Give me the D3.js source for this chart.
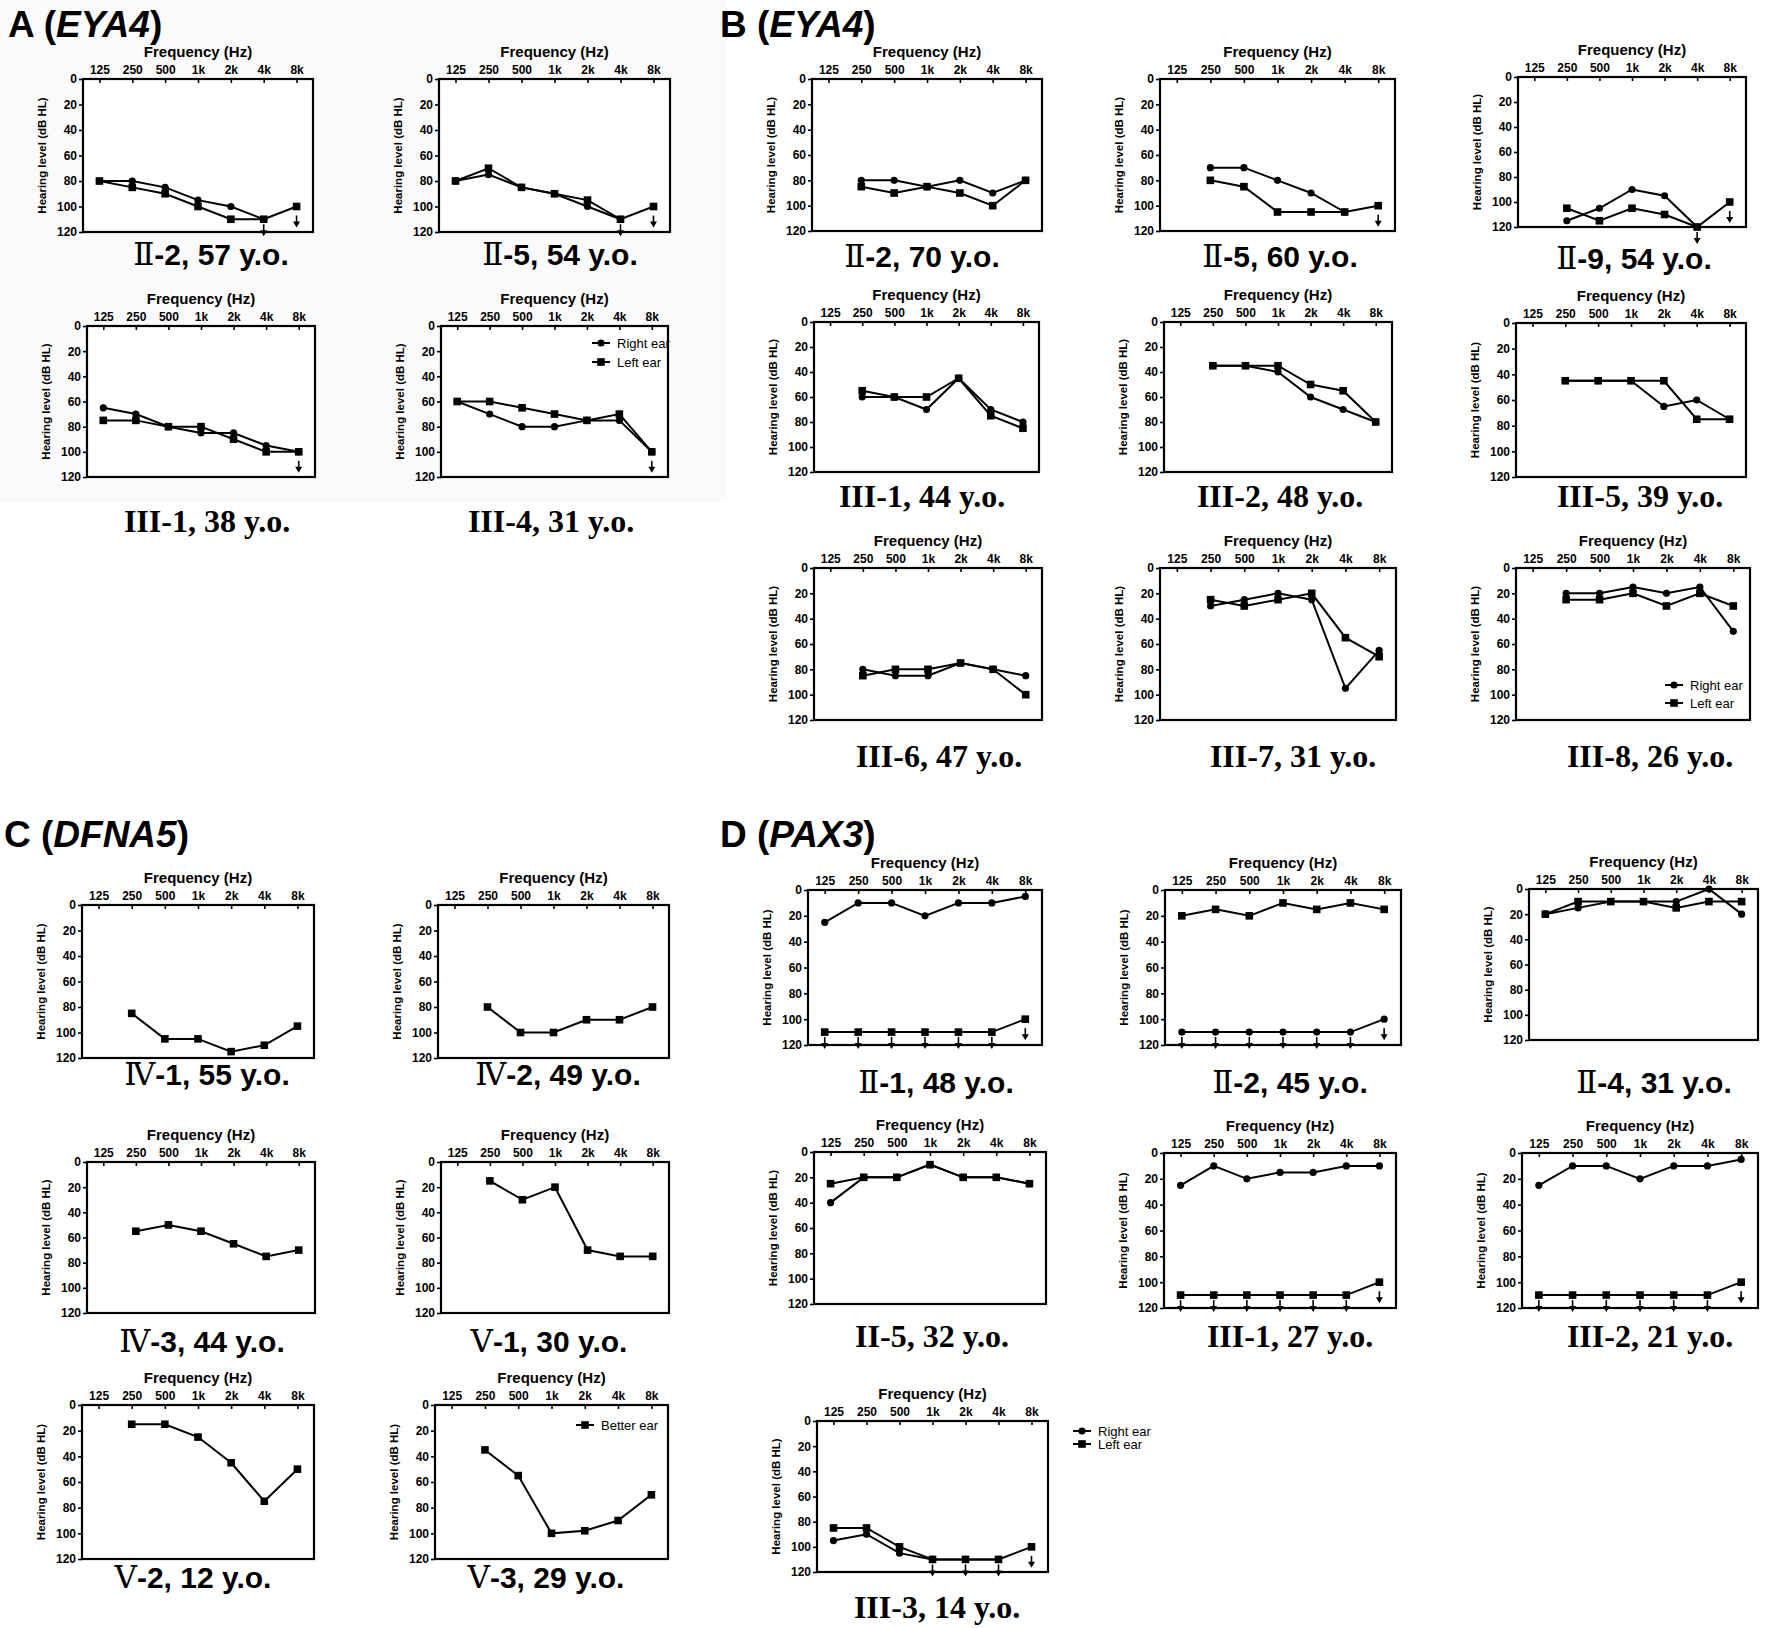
<!DOCTYPE html>
<html>
<head>
<meta charset="utf-8">
<script src="https://cdn.jsdelivr.net/npm/d3@7"></script>
<style>
body { margin: 0; background: #fff; }
</style>
</head>
<body>
<script>
// audiogram data (dB HL, null = not tested)
var freqs = ["125", "250", "500", "1k", "2k", "4k", "8k"];
var levelTicks = [0, 20, 40, 60, 80, 100, 120];
var earLabels = ["Right ear", "Left ear"];
var betterLabel = ["Better ear"];

var titles = [["A (", "EYA4", ")"], ["B (", "EYA4", ")"], ["C  (", "DFNA5", ")"], ["D (", "PAX3", ")"]];

var captionsA = ["Ⅱ-2, 57 y.o.", "Ⅱ-5, 54 y.o.", "III-1, 38 y.o.", "III-4, 31 y.o."];
var rightA = [
    [80, 80, 85, 95, 100, 110, null],
    [80, 75, 85, 90, 100, 110, null],
    [65, 70, 80, 85, 85, 95, 100],
    [60, 70, 80, 80, 75, 75, 100]
];
var leftA = [
    [80, 85, 90, 100, 110, 110, 100],
    [80, 70, 85, 90, 95, 110, 100],
    [75, 75, 80, 80, 90, 100, 100],
    [60, 60, 65, 70, 75, 70, 100]
];
var arrowsA = [
    [["4k", 110], ["8k", 100]],
    [["4k", 110], ["8k", 100]],
    [["8k", 100]],
    [["8k", 100]]
];

var captionsB = ["Ⅱ-2, 70 y.o.", "Ⅱ-5, 60 y.o.", "Ⅱ-9, 54 y.o.", "III-1, 44 y.o.", "III-2, 48 y.o.",
                 "III-5, 39 y.o.", "III-6, 47 y.o.", "III-7, 31 y.o.", "III-8, 26 y.o."];
var rightB = [
    [null, 80, 80, 85, 80, 90, 80],
    [null, 70, 70, 80, 90, 105, null],
    [null, 115, 105, 90, 95, 120, null],
    [null, 60, 60, 70, 45, 70, 80],
    [null, 35, 35, 40, 60, 70, 80],
    [null, 45, 45, 45, 65, 60, 75],
    [null, 80, 85, 85, 75, 80, 85],
    [null, 30, 25, 20, 25, 95, 65],
    [null, 20, 20, 15, 20, 15, 50]
];
var leftB = [
    [null, 85, 90, 85, 90, 100, 80],
    [null, 80, 85, 105, 105, 105, 100],
    [null, 105, 115, 105, 110, 120, 100],
    [null, 55, 60, 60, 45, 75, 85],
    [null, 35, 35, 35, 50, 55, 80],
    [null, 45, 45, 45, 45, 75, 75],
    [null, 85, 80, 80, 75, 80, 100],
    [null, 25, 30, 25, 20, 55, 70],
    [null, 25, 25, 20, 30, 20, 30]
];
var arrowsB = [[], [["8k", 100]], [["4k", 120], ["8k", 100]], [], [], [], [], [], []];

var captionsC = ["Ⅳ-1, 55 y.o.", "Ⅳ-2, 49 y.o.", "Ⅳ-3, 44 y.o.", "Ⅴ-1, 30 y.o.", "Ⅴ-2, 12 y.o.", "Ⅴ-3, 29 y.o."];
var betterC = [
    [null, 85, 105, 105, 115, 110, 95],
    [null, 80, 100, 100, 90, 90, 80],
    [null, 55, 50, 55, 65, 75, 70],
    [null, 15, 30, 20, 70, 75, 75],
    [null, 15, 15, 25, 45, 75, 50],
    [null, 35, 55, 100, 98, 90, 70]
];

var captionsD = ["Ⅱ-1, 48 y.o.", "Ⅱ-2, 45 y.o.", "Ⅱ-4, 31 y.o.", "II-5, 32 y.o.",
                 "III-1, 27 y.o.", "III-2, 21 y.o.", "III-3, 14 y.o."];
var rightD = [
    [25, 10, 10, 20, 10, 10, 5],
    [110, 110, 110, 110, 110, 110, 100],
    [20, 15, 10, 10, 10, 0, 20],
    [40, 20, 20, 10, 20, 20, 25],
    [25, 10, 20, 15, 15, 10, 10],
    [25, 10, 10, 20, 10, 10, 5],
    [95, 90, 105, 110, 110, 110, null]
];
var leftD = [
    [110, 110, 110, 110, 110, 110, 100],
    [20, 15, 20, 10, 15, 10, 15],
    [20, 10, 10, 10, 15, 10, 10],
    [25, 20, 20, 10, 20, 20, 25],
    [110, 110, 110, 110, 110, 110, 100],
    [110, 110, 110, 110, 110, 110, 100],
    [85, 85, 100, 110, 110, 110, 100]
];
var noResponse = [["125", 110], ["250", 110], ["500", 110], ["1k", 110], ["2k", 110], ["4k", 110], ["8k", 100]];
var arrowsD = [noResponse, noResponse, [], [], noResponse, noResponse,
               [["1k", 110], ["2k", 110], ["4k", 110], ["8k", 100]]];

// layout: plot box [left, right, top, bottom] and caption centre/baseline
var boxesA = [[83, 313, 79, 232, 211, 265], [439, 670, 79, 232, 560, 265],
              [87, 315, 326, 477, 207, 532], [441, 668, 326, 477, 551, 532]];
var boxesB = [[812, 1042, 79, 231, 922, 267], [1160, 1395, 79, 231, 1280, 267], [1518, 1746, 77, 227, 1634, 269],
              [814, 1039, 322, 472, 922, 507], [1164, 1392, 322, 472, 1280, 507], [1516, 1746, 323, 477, 1640, 507],
              [814, 1042, 568, 720, 939, 767], [1160, 1396, 568, 720, 1293, 767], [1516, 1750, 568, 720, 1650, 767]];
var boxesC = [[82, 314, 905, 1058, 207, 1085], [438, 669, 905, 1058, 558, 1085],
              [87, 315, 1162, 1313, 202, 1352], [441, 669, 1162, 1313, 549, 1352],
              [82, 314, 1405, 1559, 193, 1588], [435, 668, 1405, 1559, 546, 1588]];
var boxesD = [[808, 1042, 890, 1045, 936, 1093], [1165, 1401, 890, 1045, 1290, 1093], [1529, 1758, 889, 1040, 1654, 1093],
              [814, 1046, 1152, 1304, 932, 1347], [1164, 1396, 1153, 1308, 1290, 1347], [1522, 1758, 1153, 1308, 1650, 1347],
              [817, 1048, 1421, 1572, 937, 1618]];

var sans = "'Liberation Sans', Arial, sans-serif";
var serif = "'Liberation Serif', 'Times New Roman', serif";

var svg = d3.select("body").append("svg")
    .attr("width", 1772)
    .attr("height", 1628);

// panel A sits on a faintly grey pasted background
svg.append("rect")
    .attr("x", 0).attr("y", 0)
    .attr("width", 727).attr("height", 502)
    .attr("fill", "#fafafa");

var titlePos = [[8, 37], [720, 37], [4, 847], [720, 847]];
titles.forEach(function(t, i) {
    let text = svg.append("text")
	.attr("x", titlePos[i][0])
	.attr("y", titlePos[i][1])
	.attr("font-family", sans)
	.attr("font-weight", "bold")
	.attr("font-size", 37);
    text.append("tspan").text(t[0]);
    text.append("tspan").attr("font-style", "italic").text(t[1]);
    text.append("tspan").text(t[2]);
});

function drawPanel(box, series, arrows, caption) {
    let x = d3.scalePoint()
	.domain(freqs)
	.range([box[0], box[1]])
	.padding(0.5);
    let y = d3.scaleLinear()
	.domain([0, 120])
	.range([box[2], box[3]]);
    let g = svg.append("g");

    g.append("rect")
	.attr("x", box[0])
	.attr("y", box[2])
	.attr("width", box[1] - box[0])
	.attr("height", box[3] - box[2])
	.attr("fill", "#fff")
	.attr("stroke", "#000")
	.attr("stroke-width", 2.2);

    let xAxis = g.append("g")
	.attr("transform", "translate(0," + box[2] + ")")
	.call(d3.axisTop(x).tickSizeInner(-4).tickSizeOuter(0).tickPadding(5));
    let yAxis = g.append("g")
	.attr("transform", "translate(" + box[0] + ",0)")
	.call(d3.axisLeft(y).tickValues(levelTicks).tickSize(4).tickPadding(2));
    [xAxis, yAxis].forEach(function(a) {
	a.select(".domain").remove();
	a.selectAll(".tick line").attr("stroke-width", 1.6);
	a.selectAll(".tick text")
	    .attr("font-family", sans)
	    .attr("font-weight", "bold")
	    .attr("font-size", 12)
	    .attr("fill", "#000");
    });

    g.append("text")
	.attr("x", (box[0] + box[1]) / 2)
	.attr("y", box[2] - 22)
	.attr("text-anchor", "middle")
	.attr("font-family", sans)
	.attr("font-weight", "bold")
	.attr("font-size", 15)
	.text("Frequency (Hz)");

    g.append("text")
	.attr("transform", "translate(" + (box[0] - 37) + "," + ((box[2] + box[3]) / 2) + ") rotate(-90)")
	.attr("text-anchor", "middle")
	.attr("font-family", sans)
	.attr("font-weight", "bold")
	.attr("font-size", 11.5)
	.text("Hearing level (dB HL)");

    let line = d3.line()
	.defined(d => d[1] != null)
	.x(d => x(d[0]))
	.y(d => y(d[1]));

    series.forEach(function(s) {
	let pts = freqs.map((f, i) => [f, s.values[i]]);
	g.append("path")
	    .attr("d", line(pts))
	    .attr("fill", "none")
	    .attr("stroke", "#000")
	    .attr("stroke-width", 2);
	let marks = pts.filter(d => d[1] != null);
	if (s.shape === "circle") {
	    g.selectAll(null)
		.data(marks)
		.enter()
		.append("circle")
		.attr("cx", d => x(d[0]))
		.attr("cy", d => y(d[1]))
		.attr("r", 3.6);
	} else {
	    g.selectAll(null)
		.data(marks)
		.enter()
		.append("rect")
		.attr("x", d => x(d[0]) - 3.8)
		.attr("y", d => y(d[1]) - 3.8)
		.attr("width", 7.6)
		.attr("height", 7.6);
	}
    });

    // "no response" arrows under the threshold marks
    arrows.forEach(function(a) {
	let ax = x(a[0]);
	let top = y(a[1]) + (a[1] < 110 ? 9 : 5);
	let end = top + 12;
	g.append("line")
	    .attr("x1", ax).attr("x2", ax)
	    .attr("y1", top).attr("y2", end - 4)
	    .attr("stroke", "#000")
	    .attr("stroke-width", 1.6);
	g.append("path")
	    .attr("d", "M" + (ax - 3.5) + "," + (end - 6) + "L" + (ax + 3.5) + "," + (end - 6) + "L" + ax + "," + end + "Z")
	    .attr("fill", "#000");
    });

    let cap = g.append("text")
	.attr("x", box[4])
	.attr("y", box[5])
	.attr("text-anchor", "middle")
	.attr("font-size", 30);
    let first = caption.charAt(0);
    if ("ⅡⅣⅤ".indexOf(first) >= 0) {
	cap.append("tspan")
	    .attr("font-family", "'DejaVu Serif', serif")
	    .attr("font-size", 31)
	    .text(first);
	cap.append("tspan")
	    .attr("font-family", sans)
	    .attr("font-weight", "bold")
	    .text(caption.slice(1));
    } else {
	cap.attr("font-family", serif)
	    .attr("font-weight", "bold")
	    .attr("font-size", 32)
	    .text(caption);
    }
    return {x: x, y: y};
}

function drawLegend(lx, ly, labels, shapes, gap) {
    labels.forEach(function(label, i) {
	let cy = ly + i * gap;
	svg.append("line")
	    .attr("x1", lx - 9).attr("x2", lx + 9)
	    .attr("y1", cy).attr("y2", cy)
	    .attr("stroke", "#000")
	    .attr("stroke-width", 2);
	if (shapes[i] === "circle") {
	    svg.append("circle").attr("cx", lx).attr("cy", cy).attr("r", 3.6);
	} else {
	    svg.append("rect").attr("x", lx - 3.8).attr("y", cy - 3.8).attr("width", 7.6).attr("height", 7.6);
	}
	svg.append("text")
	    .attr("x", lx + 16)
	    .attr("y", cy)
	    .attr("dy", "0.35em")
	    .attr("font-family", sans)
	    .attr("font-size", 13)
	    .text(label);
    });
}

captionsA.forEach(function(c, i) {
    drawPanel(boxesA[i], [{shape: "circle", values: rightA[i]}, {shape: "square", values: leftA[i]}], arrowsA[i], c);
});
captionsB.forEach(function(c, i) {
    drawPanel(boxesB[i], [{shape: "circle", values: rightB[i]}, {shape: "square", values: leftB[i]}], arrowsB[i], c);
});
captionsC.forEach(function(c, i) {
    drawPanel(boxesC[i], [{shape: "square", values: betterC[i]}], [], c);
});
captionsD.forEach(function(c, i) {
    drawPanel(boxesD[i], [{shape: "circle", values: rightD[i]}, {shape: "square", values: leftD[i]}], arrowsD[i], c);
});

drawLegend(601, 343, earLabels, ["circle", "square"], 19);
drawLegend(1674, 685, earLabels, ["circle", "square"], 18);
drawLegend(585, 1425, betterLabel, ["square"], 18);
drawLegend(1082, 1431, earLabels, ["circle", "square"], 13);
</script>
</body>
</html>
